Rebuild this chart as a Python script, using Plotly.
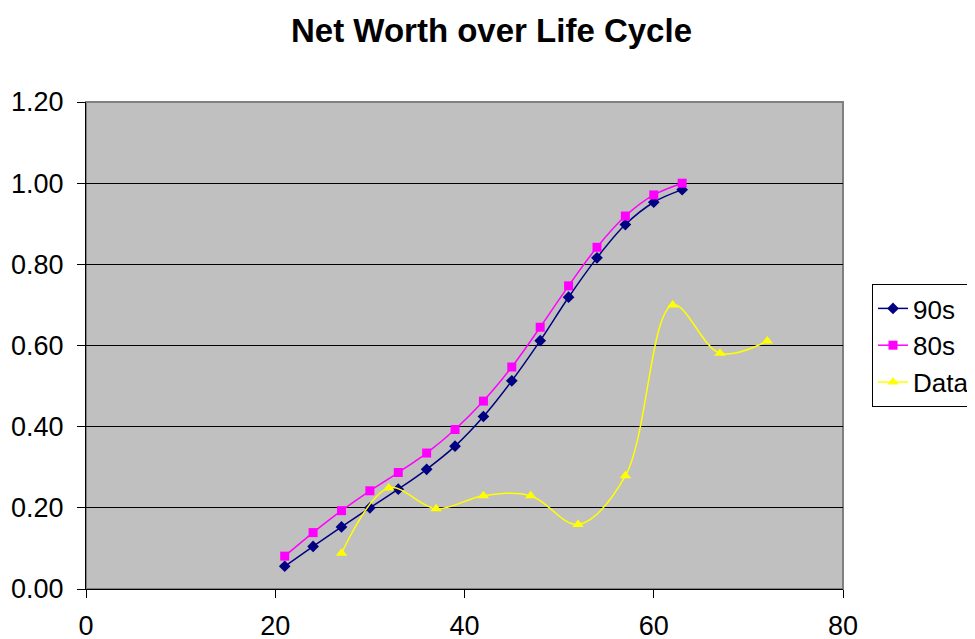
import plotly.graph_objects as go

ages_decade = [21, 24, 27, 30, 33, 36, 39, 42, 45, 48, 51, 54, 57, 60, 63]
nw_90s = [0.056, 0.105, 0.153, 0.200, 0.246, 0.295, 0.352, 0.425, 0.513,
          0.612, 0.719, 0.816, 0.898, 0.953, 0.984]
nw_80s = [0.081, 0.139, 0.193, 0.242, 0.287, 0.335, 0.393, 0.463, 0.547,
          0.645, 0.747, 0.842, 0.919, 0.971, 1.000]
ages_data = [27, 32, 37, 42, 47, 52, 57, 62, 67, 72]
nw_data = [0.088, 0.249, 0.198, 0.230, 0.230, 0.159, 0.279, 0.700, 0.581, 0.611]

x_ticks = [0, 20, 40, 60, 80]
y_ticks = [0.0, 0.2, 0.4, 0.6, 0.8, 1.0, 1.2]

FONT = "Arial, Liberation Sans, Helvetica, sans-serif"

fig = go.Figure()
fig.add_trace(go.Scatter(
    x=ages_decade, y=nw_90s, name="90s", mode="lines+markers",
    line=dict(color="#000080", width=1.5, shape="spline", smoothing=1),
    marker=dict(symbol="diamond", size=9, color="#000080")))
fig.add_trace(go.Scatter(
    x=ages_decade, y=nw_80s, name="80s", mode="lines+markers",
    line=dict(color="#FF00FF", width=1.5, shape="spline", smoothing=1),
    marker=dict(symbol="square", size=9, color="#FF00FF")))
fig.add_trace(go.Scatter(
    x=ages_data, y=nw_data, name="Data", mode="lines+markers",
    line=dict(color="#FFFF00", width=1.5, shape="spline", smoothing=1),
    marker=dict(symbol="triangle-up", size=10, color="#FFFF00")))

fig.add_shape(type="rect", xref="paper", yref="paper", x0=0, x1=1, y0=0, y1=1,
              line=dict(color="#808080", width=2), layer="below")

# page body has an 8px margin; size the figure so it ends at the window edge
W, H = 967, 631
fig.update_layout(
    width=W, height=H,
    margin=dict(l=78, r=132, t=94, b=50, autoexpand=False),
    paper_bgcolor="white", plot_bgcolor="#C0C0C0",
    font=dict(family=FONT, size=27, color="black"),
    title=dict(text="<b>Net Worth over Life Cycle</b>", x=0.5, xref="container",
               xanchor="center", y=1 - 22 / H, yanchor="middle",
               font=dict(family=FONT, size=33, color="black")),
    xaxis=dict(range=[0, 80], tickvals=x_ticks, showgrid=False, zeroline=False,
               showline=True, linecolor="black", linewidth=1,
               ticks="outside", ticklen=8, tickcolor="black",
               ticklabelstandoff=5, automargin=False),
    yaxis=dict(range=[0, 1.2], tickvals=y_ticks, tickformat=".2f",
               showgrid=True, gridcolor="black", gridwidth=1, zeroline=False,
               showline=True, linecolor="black", linewidth=1,
               ticks="outside", ticklen=8, tickcolor="black",
               ticklabelstandoff=8, automargin=False),
    legend=dict(x=(872 - 86) / 757, xanchor="left", y=0.5, yanchor="middle",
                bordercolor="black", borderwidth=1, bgcolor="white",
                font=dict(family=FONT, size=26)),
    showlegend=True,
)

fig.write_html("out.html")
